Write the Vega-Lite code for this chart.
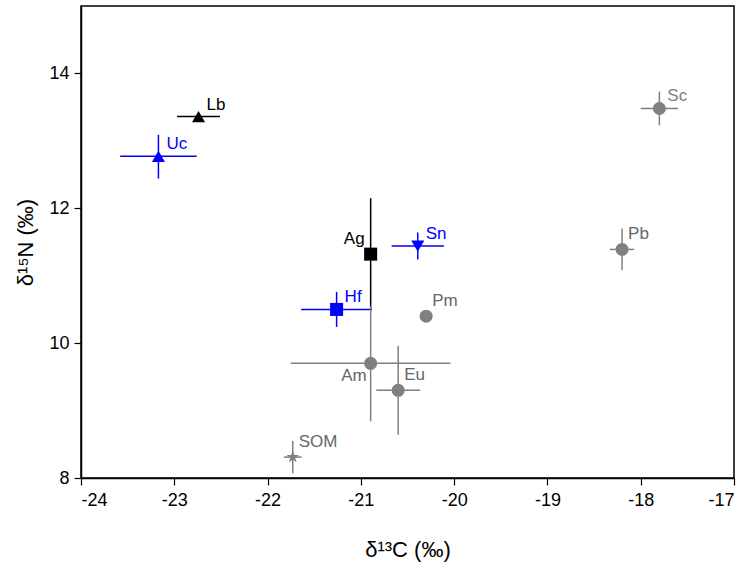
{
  "$schema": "https://vega.github.io/schema/vega-lite/v6.json",
  "width": 653,
  "height": 472,
  "autosize": "none",
  "padding": {"left": 81, "top": 6, "right": 19, "bottom": 96},
  "background": "white",
  "config": {
    "view": {"stroke": "#000000", "strokeWidth": 1.5},
    "font": "Liberation Sans",
    "axis": {
      "grid": false,
      "domainColor": "#000000",
      "domainWidth": 1.5,
      "tickColor": "#000000",
      "tickWidth": 1.2,
      "tickSize": 7,
      "labelFont": "Liberation Sans",
      "labelFontSize": 18,
      "labelColor": "#000000",
      "titleFont": "Liberation Sans",
      "titleFontSize": 22,
      "titleFontWeight": "normal",
      "titleColor": "#000000"
    }
  },
  "data": {
    "values": [
      {"species": "Lb", "x": -22.74, "y": 13.36, "xlo": -22.97, "xhi": -22.51, "ylo": 13.31, "yhi": 13.41, "grp": "pos1"},
      {"species": "Uc", "x": -23.17, "y": 12.77, "xlo": -23.58, "xhi": -22.76, "ylo": 12.44, "yhi": 13.09, "grp": "pos1"},
      {"species": "Ag", "x": -20.895, "y": 11.32, "xlo": -20.95, "xhi": -20.84, "ylo": 10.49, "yhi": 12.15, "grp": "posAg"},
      {"species": "Sn", "x": -20.39, "y": 11.44, "xlo": -20.67, "xhi": -20.11, "ylo": 11.24, "yhi": 11.64, "grp": "pos1"},
      {"species": "Hf", "x": -21.26, "y": 10.5, "xlo": -21.64, "xhi": -20.88, "ylo": 10.24, "yhi": 10.76, "grp": "pos1"},
      {"species": "Pm", "x": -20.3, "y": 10.4, "xlo": -20.3, "xhi": -20.3, "ylo": 10.4, "yhi": 10.4, "grp": "pos2"},
      {"species": "Am", "x": -20.895, "y": 9.7, "xlo": -21.75, "xhi": -20.04, "ylo": 8.84, "yhi": 10.55, "grp": "posAm"},
      {"species": "Eu", "x": -20.6, "y": 9.3, "xlo": -20.835, "xhi": -20.365, "ylo": 8.64, "yhi": 9.96, "grp": "pos2"},
      {"species": "SOM", "x": -21.73, "y": 8.31, "xlo": -21.825, "xhi": -21.635, "ylo": 8.07, "yhi": 8.55, "grp": "pos2"},
      {"species": "Sc", "x": -17.8, "y": 13.48, "xlo": -18.0, "xhi": -17.6, "ylo": 13.23, "yhi": 13.73, "grp": "pos1"},
      {"species": "Pb", "x": -18.2, "y": 11.39, "xlo": -18.33, "xhi": -18.07, "ylo": 11.08, "yhi": 11.7, "grp": "pos2"}
    ]
  },
  "encoding": {
    "x": {
      "field": "x", "type": "quantitative",
      "scale": {"domain": [-24, -17], "nice": false, "zero": false},
      "axis": {"values": [-24, -23, -22, -21, -20, -19, -18, -17], "labelExpr": "'' + datum.value", "title": "δ¹³C (‰)", "titlePadding": 30, "labelPadding": 6}
    },
    "y": {
      "field": "y", "type": "quantitative",
      "scale": {"domain": [8, 15], "nice": false, "zero": false},
      "axis": {"values": [8, 10, 12, 14], "labelExpr": "'' + datum.value", "title": "δ¹⁵N (‰)", "titlePadding": 11, "labelPadding": 5}
    },
    "color": {
      "field": "species", "type": "nominal", "legend": null,
      "scale": {
        "domain": ["Lb", "Uc", "Ag", "Sn", "Hf", "Pm", "Am", "Eu", "SOM", "Sc", "Pb"],
        "range": ["#000000", "#0000ff", "#000000", "#0000ff", "#0000ff", "#808080", "#808080", "#808080", "#808080", "#808080", "#808080"]
      }
    }
  },
  "layer": [
    {
      "mark": {"type": "rule", "strokeWidth": 1.5},
      "encoding": {
        "x": {"field": "xlo", "type": "quantitative"},
        "x2": {"field": "xhi"}
      }
    },
    {
      "mark": {"type": "rule", "strokeWidth": 1.5},
      "encoding": {
        "y": {"field": "ylo", "type": "quantitative"},
        "y2": {"field": "yhi"}
      }
    },
    {
      "mark": {"type": "point", "filled": true, "opacity": 1},
      "encoding": {
        "shape": {
          "field": "species", "type": "nominal", "legend": null,
          "scale": {
            "domain": ["Lb", "Uc", "Ag", "Sn", "Hf", "Pm", "Am", "Eu", "SOM", "Sc", "Pb"],
            "range": ["triangle-up", "triangle-up", "square", "triangle-down", "square", "circle", "circle", "circle", "M0,-1L0.235,-0.324L0.951,-0.309L0.38,0.124L0.588,0.809L0,0.4L-0.588,0.809L-0.38,0.124L-0.951,-0.309L-0.235,-0.324Z", "circle", "circle"]
          }
        },
        "size": {
          "field": "species", "type": "nominal", "legend": null,
          "scale": {
            "domain": ["Lb", "Uc", "Ag", "Sn", "Hf", "Pm", "Am", "Eu", "SOM", "Sc", "Pb"],
            "range": [170, 170, 130, 170, 130, 140, 140, 140, 70, 140, 140]
          }
        }
      }
    },
    {
      "transform": [{"filter": "datum.grp === 'pos1'"}],
      "mark": {"type": "text", "align": "left", "baseline": "middle", "dx": 8, "dy": -12, "fontSize": 17},
      "encoding": {
        "text": {"field": "species"},
        "color": {
          "field": "species", "type": "nominal", "legend": null,
          "scale": {
            "domain": ["Lb", "Uc", "Ag", "Sn", "Hf", "Pm", "Am", "Eu", "SOM", "Sc", "Pb"],
            "range": ["#000000", "#0000ff", "#000000", "#0000ff", "#0000ff", "#666666", "#666666", "#666666", "#666666", "#666666", "#666666"]
          }
        }
      }
    },
    {
      "transform": [{"filter": "datum.grp === 'pos2'"}],
      "mark": {"type": "text", "align": "left", "baseline": "middle", "dx": 6, "dy": -15, "fontSize": 17},
      "encoding": {
        "text": {"field": "species"},
        "color": {"value": "#666666"}
      }
    },
    {
      "transform": [{"filter": "datum.grp === 'posAg'"}],
      "mark": {"type": "text", "align": "right", "baseline": "middle", "dx": -6, "dy": -15, "fontSize": 17},
      "encoding": {
        "text": {"field": "species"},
        "color": {"value": "#000000"}
      }
    },
    {
      "transform": [{"filter": "datum.grp === 'posAm'"}],
      "mark": {"type": "text", "align": "right", "baseline": "middle", "dx": -4, "dy": 13, "fontSize": 17},
      "encoding": {
        "text": {"field": "species"},
        "color": {"value": "#666666"}
      }
    }
  ]
}
